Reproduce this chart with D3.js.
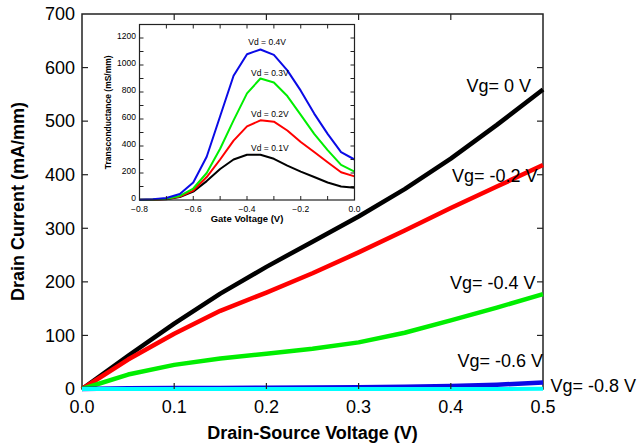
<!DOCTYPE html>
<html>
<head>
<meta charset="utf-8">
<script src="https://cdn.jsdelivr.net/npm/d3@7"></script>
<style>
  body { margin: 0; background: #fff; }
  svg { display: block; font-family: "Liberation Sans", Arial, Helvetica, sans-serif; }
</style>
</head>
<body>
<svg id="chart" width="641" height="445"></svg>
<script>
// main plot: drain current vs drain-source voltage
const vds = [0, 0.05, 0.1, 0.15, 0.2, 0.25, 0.3, 0.35, 0.4, 0.45, 0.5]
const idVg0 = [0, 62, 122, 178, 228, 275, 322, 373, 430, 493, 559]
const idVgM02 = [0, 55, 103, 146, 180, 216, 255, 296, 338, 378, 418]
const idVgM04 = [0, 27, 45, 57, 66, 75, 87, 105, 128, 152, 177]
const idVgM06 = [0, 1.5, 2, 2, 2.5, 3, 3.5, 4, 5.5, 8, 12]
const idVgM08 = [0, 0, 0, 0, 0, 0, 0, 0, 0, 0, 0.5]
const mainLabels = ["Vg= 0 V", "Vg= -0.2 V", "Vg= -0.4 V", "Vg= -0.6 V", "Vg= -0.8 V"]
const mainColors = ["#000000", "#ff0000", "#00ee00", "#0a0ae6", "#00ffff"]
const xTicks = [0, 0.1, 0.2, 0.3, 0.4, 0.5]
const yTicks = [0, 100, 200, 300, 400, 500, 600, 700]

// inset: transconductance vs gate voltage
const vgs = [-0.8, -0.75, -0.7, -0.65, -0.6, -0.55, -0.5, -0.45, -0.4, -0.35, -0.3, -0.25, -0.2, -0.15, -0.1, -0.05, 0]
const gmVd04 = [2, 5, 15, 45, 130, 320, 620, 920, 1080, 1115, 1075, 960, 810, 640, 490, 355, 300]
const gmVd03 = [1, 3, 10, 30, 85, 200, 380, 590, 790, 900, 870, 770, 630, 490, 370, 260, 210]
const gmVd02 = [1, 2, 8, 25, 70, 170, 300, 440, 545, 590, 580, 515, 430, 355, 280, 205, 175]
const gmVd01 = [1, 2, 6, 22, 62, 140, 230, 300, 335, 335, 305, 255, 210, 170, 130, 100, 90]
const insetLabels = ["Vd = 0.4V", "Vd = 0.3V", "Vd = 0.2V", "Vd = 0.1V"]
const insetColors = ["#0a0ae6", "#00ee00", "#ff0000", "#000000"]
const insetXTicks = [-0.8, -0.7, -0.6, -0.5, -0.4, -0.3, -0.2, -0.1, 0]
const insetYTicks = [0, 100, 200, 300, 400, 500, 600, 700, 800, 900, 1000, 1100, 1200, 1300]

const svg = d3.select("#chart")

// ---------- main axes ----------
const x = d3.scaleLinear().domain([0, 0.5]).range([82, 543])
const y = d3.scaleLinear().domain([0, 700]).range([389, 14])

const line = d3.line().x((d, i) => x(vds[i])).y(d => y(d))

// frame
svg.append("rect")
    .attr("x", x(0)).attr("y", y(700))
    .attr("width", x(0.5) - x(0)).attr("height", y(0) - y(700))
    .attr("fill", "none").attr("stroke", "#222").attr("stroke-width", 1.5)

// curves: draw order black, red, green, blue, cyan on top
const series = [idVg0, idVgM02, idVgM04, idVgM06, idVgM08]
series.forEach((s, i) => {
    svg.append("path")
        .attr("d", line(s))
        .attr("fill", "none")
        .attr("stroke", mainColors[i])
        .attr("stroke-width", i === 4 ? 4 : 4.5)
        .attr("stroke-linejoin", "round")
})

// ticks pointing inward on all four sides
const tl = 6
svg.append("g").selectAll("line").data(xTicks.slice(1, -1)).enter().append("line")
    .attr("x1", d => x(d)).attr("x2", d => x(d))
    .attr("y1", y(0)).attr("y2", y(0) - tl)
    .attr("stroke", "#222").attr("stroke-width", 1.2)
svg.append("g").selectAll("line").data(xTicks.slice(1, -1)).enter().append("line")
    .attr("x1", d => x(d)).attr("x2", d => x(d))
    .attr("y1", y(700)).attr("y2", y(700) + tl)
    .attr("stroke", "#222").attr("stroke-width", 1.2)
svg.append("g").selectAll("line").data(yTicks.slice(1, -1)).enter().append("line")
    .attr("x1", x(0)).attr("x2", x(0) + tl)
    .attr("y1", d => y(d)).attr("y2", d => y(d))
    .attr("stroke", "#222").attr("stroke-width", 1.2)
svg.append("g").selectAll("line").data(yTicks.slice(1, -1)).enter().append("line")
    .attr("x1", x(0.5)).attr("x2", x(0.5) - tl)
    .attr("y1", d => y(d)).attr("y2", d => y(d))
    .attr("stroke", "#222").attr("stroke-width", 1.2)

// tick labels
svg.append("g").selectAll("text").data(xTicks).enter().append("text")
    .attr("x", d => x(d)).attr("y", 413)
    .attr("text-anchor", "middle").attr("font-size", 18)
    .text(d => d3.format(".1f")(d))
svg.append("g").selectAll("text").data(yTicks).enter().append("text")
    .attr("x", 75).attr("y", d => y(d)).attr("dy", "0.35em")
    .attr("text-anchor", "end").attr("font-size", 18)
    .text(d => d)

// axis titles
svg.append("text")
    .attr("x", (x(0) + x(0.5)) / 2).attr("y", 439)
    .attr("text-anchor", "middle").attr("font-size", 18).attr("font-weight", "bold")
    .text("Drain-Source Voltage (V)")
svg.append("text")
    .attr("transform", "translate(24," + ((y(0) + y(700)) / 2) + ") rotate(-90)")
    .attr("text-anchor", "middle").attr("font-size", 18).attr("font-weight", "bold")
    .text("Drain Current (mA/mm)")

// curve labels
const mainLabelPos = [[0.487, 555, "end"], [0.494, 387, "end"], [0.492, 186, "end"], [0.5, 41, "end"], [0.508, -6, "start"]]
mainLabels.forEach((t, i) => {
    svg.append("text")
        .attr("x", x(mainLabelPos[i][0])).attr("y", y(mainLabelPos[i][1]))
        .attr("text-anchor", mainLabelPos[i][2]).attr("font-size", 18)
        .text(t)
})

// ---------- inset ----------
const xi = d3.scaleLinear().domain([-0.8, 0]).range([139.5, 354.5])
const yi = d3.scaleLinear().domain([0, 1300]).range([200, 24.5])

const lineI = d3.line().x((d, i) => xi(vgs[i])).y(d => yi(d))
const inset = svg.append("g")

const insetSeries = [gmVd04, gmVd03, gmVd02, gmVd01]
insetSeries.slice().reverse().forEach((s, k) => {
    const i = insetSeries.length - 1 - k
    inset.append("path")
        .attr("d", lineI(s))
        .attr("fill", "none")
        .attr("stroke", insetColors[i])
        .attr("stroke-width", 2)
        .attr("stroke-linejoin", "round")
})

inset.append("rect")
    .attr("x", xi(-0.8)).attr("y", yi(1300))
    .attr("width", xi(0) - xi(-0.8)).attr("height", yi(0) - yi(1300))
    .attr("fill", "none").attr("stroke", "#222").attr("stroke-width", 1.2)

const ti = 4
inset.append("g").selectAll("line").data(insetXTicks.slice(1, -1)).enter().append("line")
    .attr("x1", d => xi(d)).attr("x2", d => xi(d))
    .attr("y1", yi(0)).attr("y2", yi(0) - ti)
    .attr("stroke", "#222").attr("stroke-width", 1)
inset.append("g").selectAll("line").data(insetXTicks.slice(1, -1)).enter().append("line")
    .attr("x1", d => xi(d)).attr("x2", d => xi(d))
    .attr("y1", yi(1300)).attr("y2", yi(1300) + ti)
    .attr("stroke", "#222").attr("stroke-width", 1)
inset.append("g").selectAll("line").data(insetYTicks.slice(1, -1)).enter().append("line")
    .attr("x1", xi(-0.8)).attr("x2", xi(-0.8) + ti)
    .attr("y1", d => yi(d)).attr("y2", d => yi(d))
    .attr("stroke", "#222").attr("stroke-width", 1)
inset.append("g").selectAll("line").data(insetYTicks.slice(1, -1)).enter().append("line")
    .attr("x1", xi(0)).attr("x2", xi(0) - ti)
    .attr("y1", d => yi(d)).attr("y2", d => yi(d))
    .attr("stroke", "#222").attr("stroke-width", 1)

inset.append("g").selectAll("text").data(insetXTicks.filter((d, i) => i % 2 === 0)).enter().append("text")
    .attr("x", d => xi(d)).attr("y", 212)
    .attr("text-anchor", "middle").attr("font-size", 8.5)
    .text(d => d3.format(".1f")(d))
inset.append("g").selectAll("text").data(insetYTicks.filter((d, i) => i % 2 === 0 && d <= 1200)).enter().append("text")
    .attr("x", 136).attr("y", d => yi(d) - 1.5).attr("dy", "0.35em")
    .attr("text-anchor", "end").attr("font-size", 8.5)
    .text(d => d)

inset.append("text")
    .attr("x", (xi(-0.8) + xi(0)) / 2).attr("y", 222)
    .attr("text-anchor", "middle").attr("font-size", 9.5).attr("font-weight", "bold")
    .text("Gate Voltage (V)")
inset.append("text")
    .attr("transform", "translate(111," + ((yi(0) + yi(1300)) / 2) + ") rotate(-90)")
    .attr("text-anchor", "middle").attr("font-size", 8.5).attr("font-weight", "bold")
    .text("Transconductance (mS/mm)")

const insetLabelPos = [[-0.325, 1148], [-0.315, 920], [-0.315, 615], [-0.315, 360]]
insetLabels.forEach((t, i) => {
    inset.append("text")
        .attr("x", xi(insetLabelPos[i][0])).attr("y", yi(insetLabelPos[i][1]))
        .attr("text-anchor", "middle").attr("font-size", 8.5)
        .text(t)
})
</script>
</body>
</html>
